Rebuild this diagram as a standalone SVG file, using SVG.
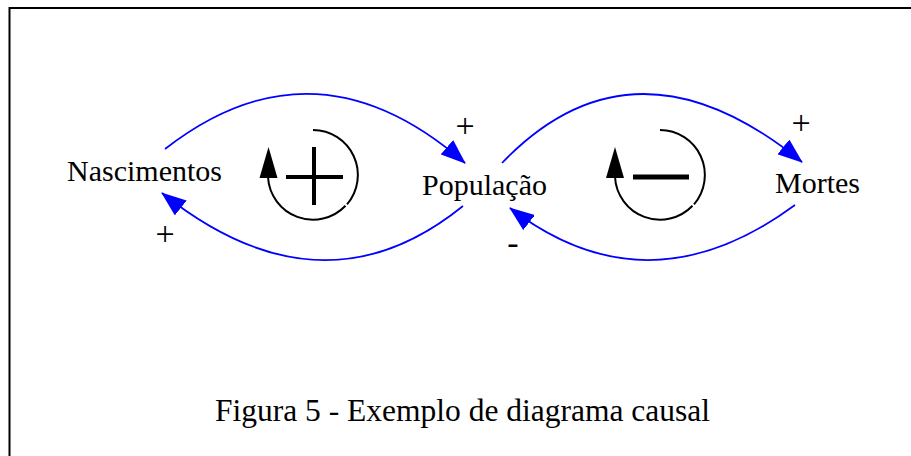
<svg xmlns="http://www.w3.org/2000/svg" width="911" height="456" viewBox="0 0 911 456">
<defs>
<style>
.lbl{font-family:"Liberation Serif","Times New Roman",serif;fill:#000}
.node{font-size:30px}
.sign{font-size:34px;text-anchor:middle}
.link{fill:none;stroke:#0000ff;stroke-width:1.7;marker-end:url(#ah)}
.loop{fill:none;stroke:#000;stroke-width:2}
</style>
<marker id="ah" markerUnits="userSpaceOnUse" markerWidth="25" markerHeight="19" viewBox="0 0 25 19" refX="24" refY="9.5" orient="auto">
<path d="M0,0 L25,9.5 L0,19 z" fill="#0000ff"/>
</marker>
</defs>
<rect width="911" height="456" fill="#fff"/>
<path d="M9.5,456 V8 H911" fill="none" stroke="#000" stroke-width="2"/>

<g id="connectors">
<path class="link" d="M165,149 Q315,32 465,163"/>
<path class="link" d="M463,206 Q321.5,320.5 162,193"/>
<path class="link" d="M502,163 Q634,25.5 802,162"/>
<path class="link" d="M795,205 Q647.5,313.5 510,208"/>
</g>

<g id="polarities" class="lbl sign">
<text x="465" y="136.5">+</text>
<text x="165" y="244.5">+</text>
<text x="801" y="133.5">+</text>
<text x="513" y="254">-</text>
</g>

<g id="nascimentos"><text class="lbl node" x="67" y="181">Nascimentos</text></g>
<g id="populacao"><text class="lbl node" x="422" y="195">População</text></g>
<g id="mortes"><text class="lbl node" x="775" y="193">Mortes</text></g>

<g id="loop-positive">
<path class="loop" d="M313,130 A45,45 0 0,1 347,204.3"/>
<path class="loop" d="M345.5,205.7 A45,45 0 0,1 268,177"/>
<polygon points="268.5,147 259.5,178 277.5,178" fill="#000"/>
<line x1="286" y1="177" x2="343" y2="177" stroke="#000" stroke-width="4"/>
<line x1="314" y1="147" x2="314" y2="205" stroke="#000" stroke-width="4"/>
</g>

<g id="loop-negative">
<path class="loop" d="M660,130 A45,45 0 0,1 694,204.3"/>
<path class="loop" d="M692.5,205.7 A45,45 0 0,1 615,177"/>
<polygon points="615,147 606,178 624,178" fill="#000"/>
<line x1="633" y1="177" x2="689" y2="177" stroke="#000" stroke-width="5"/>
</g>

<g id="caption"><text class="lbl" x="462.5" y="421" font-size="31.5" text-anchor="middle">Figura 5 - Exemplo de diagrama causal</text></g>
</svg>
